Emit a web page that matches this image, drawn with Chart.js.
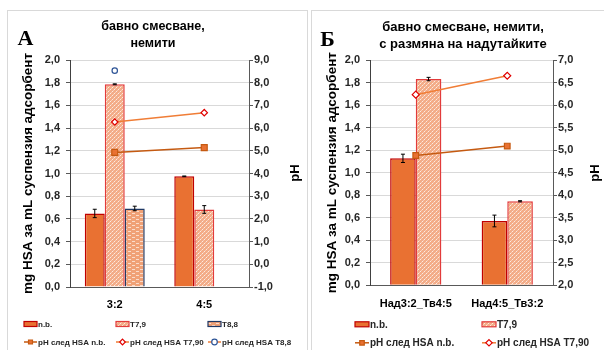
<!DOCTYPE html>
<html>
<head>
<meta charset="utf-8">
<script src="https://cdn.jsdelivr.net/npm/chart.js@4/dist/chart.umd.min.js"></script>
<style>
  html, body { margin: 0; padding: 0; background: #fff; width: 604px; height: 350px; overflow: hidden; }
  .panel { position: absolute; outline: 1px solid #d9d9d9; background: #fff; }
  #panelA { left: 8px; top: 11px; width: 299px; height: 339px; }
  #panelB { left: 312px; top: 11px; width: 292px; height: 339px; }
  canvas { position: absolute; left: 0; top: 0; }
</style>
</head>
<body>
<div class="panel" id="panelA"><canvas id="chartA" width="299" height="339"></canvas></div>
<div class="panel" id="panelB"><canvas id="chartB" width="292" height="339"></canvas></div>
<script>
// ---- Panel А: slow mixing, unwashed ----
const categoriesA = ['3:2', '4:5'];
const nbA      = [0.648, 0.975];
const nbErrA   = [0.037, 0.003];
const t79A     = [1.786, 0.683];
const t79ErrA  = [0.004, 0.034];
const t88A     = [0.692, null];
const t88ErrA  = [0.020, null];
const phNbA    = [4.93, 5.14];
const phT79A   = [6.27, 6.68];
const phT88A   = [8.53, null];

// ---- Panel Б: slow mixing, unwashed, swapped supernatants ----
const categoriesB = ['Над3:2_Тв4:5', 'Над4:5_Тв3:2'];
const nbB      = [1.127, 0.571];
const nbErrB   = [0.037, 0.052];
const t79B     = [1.831, 0.746];
const t79ErrB  = [0.015, 0.005];
const phNbB    = [4.88, 5.09];
const phT79B   = [6.23, 6.65];

const FONT = '"Liberation Sans", Arial, sans-serif';
const fmt = v => Number(v).toFixed(1).replace('.', ',');

function makePattern(kind) {
  const c = document.createElement('canvas');
  const g = c.getContext('2d');
  if (kind === 'dots') {
    c.width = 4; c.height = 4;
    g.fillStyle = '#F3AC88'; g.fillRect(0, 0, 4, 4);
    g.fillStyle = '#FDEBE1';
    g.fillRect(0, 0, 1, 1); g.fillRect(2, 2, 1, 1);
    g.fillStyle = '#F8CDB6';
    g.fillRect(3, 1, 1, 1); g.fillRect(1, 3, 1, 1);
  } else {
    c.width = 8; c.height = 4;
    g.fillStyle = '#F0A176'; g.fillRect(0, 0, 8, 4);
    g.fillStyle = '#FBDCCB';
    g.fillRect(0, 0, 3, 1); g.fillRect(4, 2, 3, 1);
  }
  return g.createPattern(c, 'repeat');
}
const dotFill = makePattern('dots');
const dashFill = makePattern('dash');

// error bars on the bar datasets
const errorBars = {
  id: 'errorBars',
  afterDatasetsDraw(chart) {
    const ctx = chart.ctx;
    const y = chart.scales.y;
    chart.data.datasets.forEach((ds, i) => {
      if (!ds.err) return;
      const meta = chart.getDatasetMeta(i);
      meta.data.forEach((el, j) => {
        const v = ds.data[j], e = ds.err[j];
        if (v == null || e == null) return;
        const yt = y.getPixelForValue(v + e), yb = y.getPixelForValue(v - e);
        ctx.save();
        ctx.strokeStyle = '#000'; ctx.lineWidth = 1;
        ctx.beginPath();
        ctx.moveTo(el.x, yt); ctx.lineTo(el.x, yb);
        ctx.moveTo(el.x - 2, yt); ctx.lineTo(el.x + 2, yt);
        ctx.moveTo(el.x - 2, yb); ctx.lineTo(el.x + 2, yb);
        ctx.stroke();
        ctx.restore();
      });
    });
  }
};

function drawMarker(ctx, style, x, y, r, fill, stroke) {
  ctx.save();
  ctx.fillStyle = fill; ctx.strokeStyle = stroke; ctx.lineWidth = 1.2;
  ctx.beginPath();
  if (style === 'rect') {
    const s = r * Math.SQRT1_2;
    ctx.rect(x - s, y - s, 2 * s, 2 * s);
  } else if (style === 'rectRot') {
    ctx.moveTo(x, y - r); ctx.lineTo(x + r, y); ctx.lineTo(x, y + r); ctx.lineTo(x - r, y); ctx.closePath();
  } else {
    ctx.arc(x, y, r, 0, Math.PI * 2);
  }
  ctx.fill(); ctx.stroke();
  ctx.restore();
}

// panel letter, heading, right axis title and the grid-style legend
const panelText = {
  id: 'panelText',
  afterDraw(chart, args, o) {
    const ctx = chart.ctx;
    ctx.save();
    ctx.fillStyle = '#000';
    ctx.font = 'bold 22px "Liberation Serif", "Times New Roman", serif';
    ctx.textAlign = 'center'; ctx.textBaseline = 'alphabetic';
    ctx.fillText(o.letter, o.letterX, o.letterY);

    ctx.font = `bold ${o.titleSize}px ${FONT}`;
    ctx.textBaseline = 'middle';
    o.title.forEach((t, k) => ctx.fillText(t, o.titleX, o.titleY + k * 17));

    ctx.save();
    ctx.translate(o.phX, o.phY);
    ctx.rotate(-Math.PI / 2);
    ctx.font = `bold 13px ${FONT}`;
    ctx.fillText('pH', 0, 0);
    ctx.restore();

    // legend
    ctx.font = `bold ${o.legSize}px ${FONT}`;
    ctx.textAlign = 'left'; ctx.textBaseline = 'middle';
    o.legend.forEach(item => {
      const ds = chart.data.datasets[item.ds];
      const x = o.cols[item.col], y = o.rows[item.row];
      const w = o.swW;
      if (ds.type === 'bar') {
        ctx.fillStyle = ds.backgroundColor;
        ctx.fillRect(x, y - o.swH / 2, w, o.swH);
        ctx.strokeStyle = ds.borderColor; ctx.lineWidth = 1.2;
        ctx.strokeRect(x, y - o.swH / 2, w, o.swH);
      } else {
        ctx.strokeStyle = ds.borderColor; ctx.lineWidth = 1.5;
        ctx.beginPath(); ctx.moveTo(x, y); ctx.lineTo(x + w, y); ctx.stroke();
        drawMarker(ctx, ds.pointStyle, x + w / 2, y, o.legR, ds.pointBackgroundColor, ds.pointBorderColor);
      }
      ctx.fillStyle = '#262626';
      ctx.fillText(ds.label, x + w + 1, y + 0.5);
    });
    ctx.restore();
  }
};

function panelChart(id, o) {
  const datasets = [];
  o.lines.forEach(l => datasets.push({
    type: 'line', label: l.label, data: l.data, yAxisID: 'y2', order: 0,
    borderColor: l.lineColor, borderWidth: 1.5, tension: 0,
    pointStyle: l.style, pointRadius: l.r, pointHoverRadius: l.r,
    pointBackgroundColor: l.fill, pointBorderColor: l.mark, pointBorderWidth: 1.2
  }));
  o.bars.forEach(b => datasets.push({
    type: 'bar', label: b.label, data: b.data, err: b.err, yAxisID: 'y', order: 1,
    backgroundColor: b.fill, borderColor: b.border, borderWidth: 1.5,
    categoryPercentage: o.catPct, barPercentage: 1
  }));
  const tickFont = { family: FONT, size: 11, weight: 'bold' };
  return new Chart(document.getElementById(id), {
    data: { labels: o.labels, datasets },
    options: {
      responsive: false, animation: false, events: [],
      layout: { padding: { top: o.top, left: 0, right: 0, bottom: 0 } },
      plugins: { legend: { display: false }, tooltip: { enabled: false }, title: { display: false },
                 panelText: o.text },
      scales: {
        x: {
          grid: { display: false, drawTicks: false },
          border: { display: true, color: '#595959', width: 1 },
          ticks: { font: { family: FONT, size: 11, weight: 'bold' }, color: '#000', padding: o.xPad, maxRotation: 0, autoSkip: false },
          afterFit(s) { s.height = o.xH; }
        },
        y: {
          position: 'left', min: 0, max: 2,
          ticks: { stepSize: 0.2, callback: fmt, font: tickFont, color: '#262626', padding: o.yPad },
          grid: { color: '#d9d9d9', tickColor: '#595959', tickLength: 4 },
          border: { color: '#404040', width: 1 },
          title: { display: true, text: 'mg HSA за mL суспензия адсорбент',
                   font: { family: FONT, size: 13.5, weight: 'bold' }, color: '#000', padding: { top: 12, bottom: 0 } },
          afterFit(s) { s.width = o.yW; }
        },
        y2: {
          position: 'right', min: o.y2min, max: o.y2max,
          ticks: { stepSize: o.y2step, callback: fmt, font: tickFont, color: '#262626', padding: 1 },
          grid: { drawOnChartArea: false, tickColor: '#595959', tickLength: 4 },
          border: { color: '#595959', width: 1 },
          afterFit(s) { s.width = o.y2W; }
        }
      }
    },
    plugins: [errorBars, panelText]
  });
}

const NB_FILL = '#E97132', NB_BORDER = '#C00000';
const T79_BORDER = '#E23B3B', T88_BORDER = '#1F3864';
const NB_LINE = '#C55A11', T79_LINE = '#F07D36';

panelChart('chartA', {
  labels: categoriesA, catPct: 0.67, top: 49, xH: 63, xPad: 11, yW: 62, yPad: 6, y2W: 58,
  y2min: -1, y2max: 9, y2step: 1,
  bars: [
    { label: 'n.b.', data: nbA, err: nbErrA, fill: NB_FILL, border: NB_BORDER },
    { label: 'T7,9', data: t79A, err: t79ErrA, fill: dotFill, border: T79_BORDER },
    { label: 'T8,8', data: t88A, err: t88ErrA, fill: dashFill, border: T88_BORDER }
  ],
  lines: [
    { label: 'pH след HSA n.b.', data: phNbA, lineColor: NB_LINE, style: 'rect', r: 4.2, fill: NB_FILL, mark: NB_LINE },
    { label: 'pH след HSA T7,90', data: phT79A, lineColor: T79_LINE, style: 'rectRot', r: 3.2, fill: '#fff', mark: '#E00000' },
    { label: 'pH след HSA T8,8', data: phT88A, lineColor: T79_LINE, style: 'circle', r: 2.7, fill: '#fff', mark: '#2F5597' }
  ],
  text: {
    letter: 'А', letterX: 17.5, letterY: 34,
    title: ['бавно смесване,', 'немити'], titleX: 145, titleY: 16, titleSize: 12.5,
    phX: 287, phY: 162,
    legSize: 8, swW: 13, swH: 5, legR: 2.8,
    cols: [16, 108, 200], rows: [313, 331],
    legend: [
      { ds: 3, col: 0, row: 0 }, { ds: 4, col: 1, row: 0 }, { ds: 5, col: 2, row: 0 },
      { ds: 0, col: 0, row: 1 }, { ds: 1, col: 1, row: 1 }, { ds: 2, col: 2, row: 1 }
    ]
  }
});

panelChart('chartB', {
  labels: categoriesB, catPct: 0.56, top: 49, xH: 64.7, xPad: 12, yW: 58, yPad: 6, y2W: 51,
  y2min: 2, y2max: 7, y2step: 0.5,
  bars: [
    { label: 'n.b.', data: nbB, err: nbErrB, fill: NB_FILL, border: NB_BORDER },
    { label: 'T7,9', data: t79B, err: t79ErrB, fill: dotFill, border: T79_BORDER }
  ],
  lines: [
    { label: 'pH след HSA n.b.', data: phNbB, lineColor: NB_LINE, style: 'rect', r: 4, fill: NB_FILL, mark: NB_LINE },
    { label: 'pH след HSA T7,90', data: phT79B, lineColor: T79_LINE, style: 'rectRot', r: 3.5, fill: '#fff', mark: '#E00000' }
  ],
  text: {
    letter: 'Б', letterX: 15.5, letterY: 35,
    title: ['бавно смесване, немити,', 'с размяна на надутайките'], titleX: 151, titleY: 16, titleSize: 13,
    phX: 283, phY: 162,
    legSize: 10, swW: 14, swH: 5, legR: 3.2,
    cols: [43, 170], rows: [313.3, 331.8],
    legend: [
      { ds: 2, col: 0, row: 0 }, { ds: 3, col: 1, row: 0 },
      { ds: 0, col: 0, row: 1 }, { ds: 1, col: 1, row: 1 }
    ]
  }
});
</script>
</body>
</html>
